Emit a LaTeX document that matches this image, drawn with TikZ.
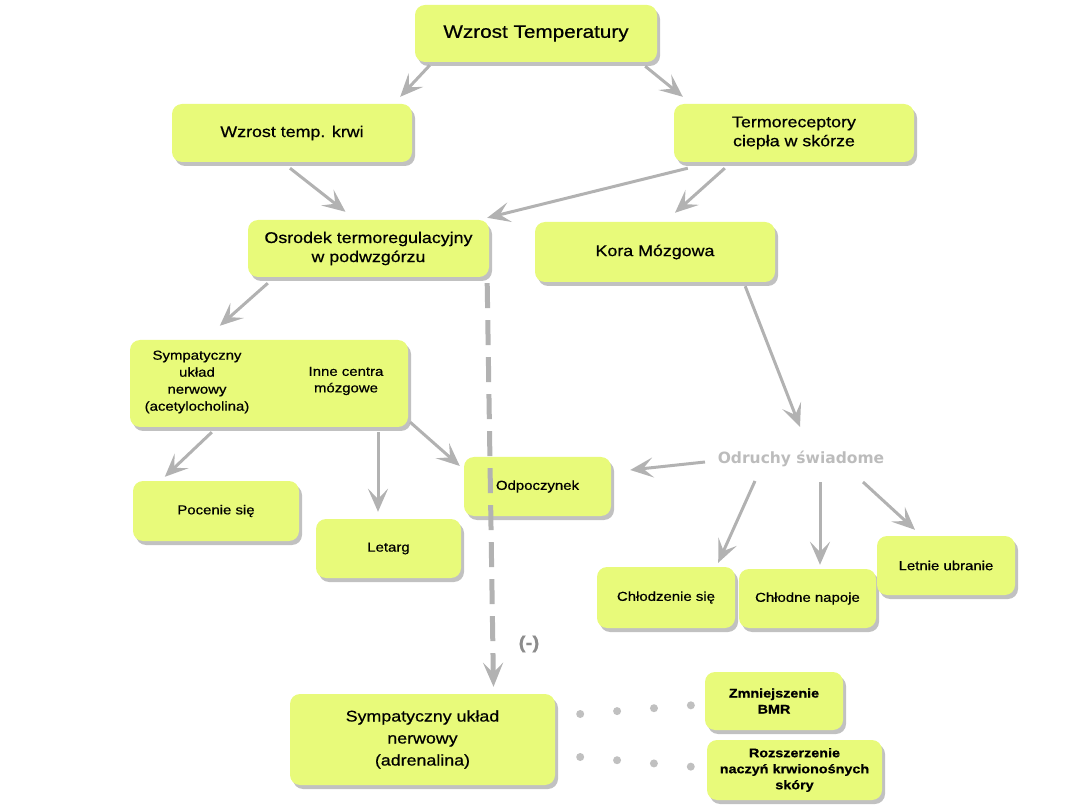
\documentclass[tikz,border=0pt]{standalone}
\usepackage{fontspec}
\setmainfont{Liberation Sans}[FakeStretch=1.15, FakeBold=0.6]
\newfontfamily\odrfont{DejaVu Sans}
\usetikzlibrary{calc,shadows,arrows.meta}
\definecolor{boxfill}{RGB}{232,250,122}
\definecolor{arrgray}{RGB}{178,178,178}
\definecolor{odrgray}{RGB}{188,188,188}
\definecolor{mingray}{RGB}{140,140,140}
\definecolor{dotgray}{RGB}{192,192,192}
\begin{document}
\begin{tikzpicture}[x=1pt,y=-1pt,
  box/.style={fill=boxfill, rounded corners=10pt, align=center, inner sep=0pt, text=black,
    drop shadow={shadow xshift=3pt, shadow yshift=-4pt, fill=black!30, opacity=0.8}},
  big/.style={font=\fontsize{15.5}{19}\selectfont},
  small/.style={font=\fontsize{13}{17}\selectfont},
  arr/.style={draw=arrgray, line width=3pt, -{Stealth[length=23pt,width=20pt,inset=10pt]}},
  dashline/.style={draw=arrgray, line width=5pt, dash pattern=on 25pt off 12pt, -{Stealth[length=24pt,width=20pt,inset=10pt]}},
  dotline/.style={draw=dotgray, line width=8pt, line cap=round, dash pattern=on 0pt off 37pt}
]
\useasboundingbox (0,0) rectangle (1080,810);

\node[box, minimum width=242pt, minimum height=57pt, font=\fontsize{18}{22}\selectfont] (top) at (536,33.5) {Wzrost Temperatury};
\node[box, big, minimum width=240pt, minimum height=58pt] (krwi) at (292,133) {Wzrost temp. krwi};
\node[box, big, minimum width=240pt, minimum height=58pt] (termo) at (794,133) {Termoreceptory\\ciepła w skórze};
\node[box, big, minimum width=241pt, minimum height=57pt] (os) at (368.5,248.5) {Osrodek termoregulacyjny\\w podwzgórzu};
\node[box, big, minimum width=240pt, minimum height=60pt] (kora) at (655,252) {Kora Mózgowa};
\node[box, minimum width=278pt, minimum height=87pt] (symp) at (269,383.5) {};
\node[align=center, font=\fontsize{13}{17}\selectfont, inner sep=0pt] (sympl) at (197,382) {Sympatyczny\\układ\\nerwowy\\(acetylocholina)};
\node[align=center, font=\fontsize{13}{16.5}\selectfont, inner sep=0pt] (inne) at (346,381) {Inne centra\\mózgowe};
\node[box, small, minimum width=166pt, minimum height=60pt] (poc) at (216,511) {Pocenie się};
\node[box, small, minimum width=145pt, minimum height=59pt] (let) at (388.5,548.5) {Letarg};
\node[box, small, minimum width=147pt, minimum height=59pt] (odp) at (537.5,486.5) {Odpoczynek};
\node[font=\odrfont\bfseries\fontsize{15.5}{18}\selectfont, text=odrgray, inner sep=1pt] (odr) at (801,459) {Odruchy świadome};
\node[box, small, minimum width=138pt, minimum height=61pt] (chl) at (666,597.5) {Chłodzenie się};
\node[box, small, minimum width=137pt, minimum height=59pt] (nap) at (807.5,598.5) {Chłodne napoje};
\node[box, small, minimum width=138pt, minimum height=59pt] (ubr) at (946,565.5) {Letnie ubranie};
\node[box, big, minimum width=265pt, minimum height=91pt, font=\fontsize{15.5}{22}\selectfont] (adr) at (422.5,739.5) {Sympatyczny układ\\nerwowy\\(adrenalina)};
\node[box, minimum width=138pt, minimum height=58pt, font=\bfseries\fontsize{12.5}{16}\selectfont] (bmr) at (774,701) {Zmniejszenie\\BMR};
\node[box, minimum width=175pt, minimum height=60pt, font=\bfseries\fontsize{12.5}{16}\selectfont] (roz) at (794.5,770) {Rozszerzenie\\naczyń krwionośnych\\skóry};
\node[font=\bfseries\fontsize{18}{20}\selectfont, text=mingray] (minus) at (529,644) {(-)};

% arrows
\draw[arr] ($(top.south west)+(15,3)$) -- ($(krwi.north east)+(-12,-7)$);
\draw[arr] ($(top.south east)+(-12,4)$) -- ($(termo.north west)+(9,-7)$);
\draw[arr] ($(krwi.south)+(-2,6)$) -- ($(os.north)+(-23,-8)$);
\draw[arr] ($(termo.south west)+(14,6)$) -- ($(os.north east)+(-2,-2)$);
\draw[arr] ($(termo.south west)+(51,6)$) -- ($(kora.north)+(20,-9)$);
\draw[arr] ($(os.south west)+(20,6)$) -- ($(symp.north west)+(90,-14)$);
\draw[arr] ($(kora.south east)+(-30,4)$) -- ($(odr.center)+(-1,-32)$);
\draw[arr] ($(odr.center)+(-96,3)$) -- ($(odp.east)+(19,-16.5)$);
\draw[arr] ($(odr.center)+(-46,22)$) -- ($(chl.north east)+(-17,-4)$);
\draw[arr] ($(odr.center)+(19,23)$) -- ($(nap.north)+(12.5,-4)$);
\draw[arr] ($(odr.center)+(62,23)$) -- ($(ubr.north)+(-31,-6)$);
\draw[arr] ($(symp.south west)+(82,5)$) -- ($(poc.north west)+(32,-4)$);
\draw[arr] ($(symp.south)+(109,5)$) -- ($(let.north)+(-10.5,-7)$);
\draw[arr] ($(symp.south east)+(2,-5)$) -- ($(odp.west)+(-4,-20.5)$);
\draw[dashline] ($(os.south east)+(-2,6)$) -- ($(adr.north)+(71,-7)$);
% dotted
\draw[dotline] ($(adr.east)+(25,-25.5)$) -- ($(bmr.west)+(-10,4)$);
\draw[dotline] ($(adr.east)+(25,17.5)$) -- ($(roz.west)+(-12,-3)$);
\end{tikzpicture}
\end{document}
